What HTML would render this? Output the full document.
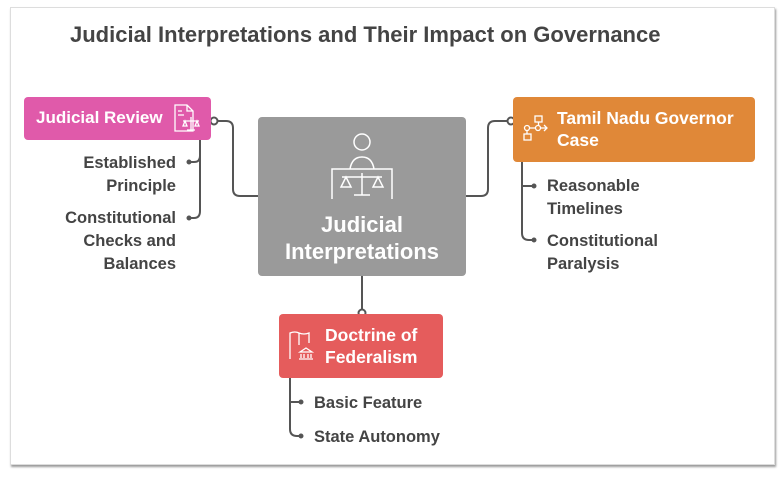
<!DOCTYPE html>
<html><head><meta charset="utf-8"><style>
*{margin:0;padding:0;box-sizing:border-box}
body{width:784px;height:477px;background:#fff;position:relative;overflow:hidden;font-family:"Liberation Sans",sans-serif}
.frame{position:absolute;left:10px;top:7px;width:765px;height:458px;border:1px solid #ddd;box-shadow:1px 2px 2px #999}
.t{position:absolute;font-weight:bold;color:#444;font-size:16.5px;line-height:23px;white-space:nowrap}
.box{position:absolute;border-radius:4px;color:#fff;font-weight:bold}
</style></head><body>
<div class="frame"></div>
<div class="t" style="left:70px;top:22px;font-size:22px;line-height:26px">Judicial Interpretations and Their Impact on Governance</div>

<svg width="784" height="477" style="position:absolute;left:0;top:0" fill="none" stroke="#555" stroke-width="2">
<path d="M216 121 H226 Q233 121 233 128 V189 Q233 196 240 196 H258"/>
<circle cx="214" cy="121" r="3.5" fill="#fff"/>
<path d="M200 140 V156 Q200 162 194 162 H189 M200 156 V211 Q200 218 194 218 H189"/>
<circle cx="189" cy="162" r="1.5" fill="#555"/><circle cx="189" cy="218" r="1.5" fill="#555"/>
<path d="M466 196 H481 Q488 196 488 189 V128 Q488 121 495 121 H509"/>
<circle cx="511" cy="121" r="3.5" fill="#fff"/>
<path d="M522 162 V186 H533 M522 186 V233 Q522 240 529 240 H533"/>
<circle cx="534" cy="186" r="1.5" fill="#555"/><circle cx="534" cy="240" r="1.5" fill="#555"/>
<path d="M362 276 V310"/>
<circle cx="362" cy="313" r="3.5" fill="#fff"/>
<path d="M290 378 V402 H300 M290 402 V429 Q290 436 297 436 H300"/>
<circle cx="301" cy="402" r="1.5" fill="#555"/><circle cx="301" cy="436" r="1.5" fill="#555"/>
</svg>

<div class="box" style="left:24px;top:97px;width:187px;height:43px;background:#e05aaa">
<div style="position:absolute;left:12px;top:11px;font-size:17px">Judicial Review</div>
<svg style="position:absolute;left:148px;top:6px" width="30" height="30" fill="none" stroke="#fff" stroke-width="1.3"><path d="M3 2 H15 L21 8 V28 H3 Z M15 2 V8 H21 M6 8 H10 M6 12 H12"/><path d="M11 18 H27 M19 14 V27 M15 27 H23 M13 18 L11 23 H15 Z M25 18 L23 23 H27 Z"/></svg>
</div>
<div class="t" style="right:608px;top:152px;text-align:right">Established<br>Principle</div>
<div class="t" style="right:608px;top:207px;text-align:right">Constitutional<br>Checks and<br>Balances</div>

<div class="box" style="left:258px;top:117px;width:208px;height:159px;background:#9a9a9a">
<svg style="position:absolute;left:72px;top:14px" width="64" height="72" fill="none" stroke="#fff" stroke-width="1.5"><circle cx="32" cy="11" r="8"/><path d="M2 68 V38 H62 V68 M20 38 Q22 26 32 26 Q42 26 44 38"/><path d="M12 46 H52 M32 42 V64 M24 64 H40 M16 46 L11 56 H21 Z M48 46 L43 56 H53 Z"/></svg>
<div style="position:absolute;left:0;width:100%;top:94px;text-align:center;font-size:22px;line-height:27px">Judicial<br>Interpretations</div>
</div>

<div class="box" style="left:513px;top:97px;width:242px;height:65px;background:#e08838">
<svg style="position:absolute;left:9px;top:17px" width="28" height="28" fill="none" stroke="#fff" stroke-width="1.3"><rect x="13" y="2" width="7" height="6"/><rect x="2" y="20" width="7" height="6"/><circle cx="5" cy="14" r="2.5"/><circle cx="16" cy="14" r="2.5"/><path d="M16.5 8 V11.5 M7.5 14 H13.5 M18.5 14 H25 M22 11 L25 14 L22 17 M5 16.5 V20"/></svg>
<div style="position:absolute;left:44px;top:10px;font-size:17.5px;line-height:22px">Tamil Nadu Governor<br>Case</div>
</div>
<div class="t" style="left:547px;top:175px">Reasonable<br>Timelines</div>
<div class="t" style="left:547px;top:230px">Constitutional<br>Paralysis</div>

<div class="box" style="left:279px;top:314px;width:164px;height:64px;background:#e55c5c">
<svg style="position:absolute;left:8px;top:15px" width="32" height="32" fill="none" stroke="#fff" stroke-width="1.3"><path d="M3 30 V4 Q8 2 12 4 Q17 6 22 4 V14 M3 4 V22 M12 4 V16"/><path d="M13 23 L19 19 L25 23 Z M14 25 V29 M17 25 V29 M21 25 V29 M24 25 V29 M12 30 H26"/></svg>
<div style="position:absolute;left:46px;top:10px;font-size:17.5px;line-height:22px">Doctrine of<br>Federalism</div>
</div>
<div class="t" style="left:314px;top:392px">Basic Feature</div>
<div class="t" style="left:314px;top:426px">State Autonomy</div>
</body></html>
